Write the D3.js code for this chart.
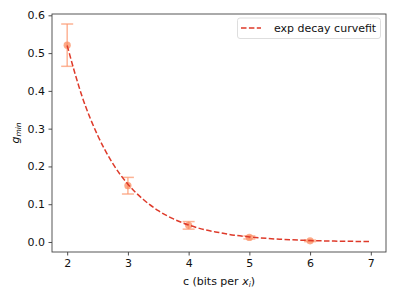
<!DOCTYPE html>
<html><head><meta charset="utf-8">
<script src="https://cdn.jsdelivr.net/npm/d3@7"></script>
<style>body{margin:0;background:#fff}svg{display:block;font-family:"DejaVu Sans",sans-serif}</style>
</head><body>
<script>
// Measured points with error bars
const pointX = [2, 3, 4, 5, 6];
const pointY = [0.521, 0.149, 0.044, 0.012, 0.003];
const pointErr = [0.056, 0.022, 0.010, 0.004, 0.002];
// Fitted curve
const curveX = [2, 2.25, 2.5, 2.75, 3, 3.25, 3.5, 3.75, 4, 4.25, 4.5, 4.75, 5, 5.5, 6, 6.5, 7];
const curveY = [0.520, 0.383, 0.283, 0.208, 0.153, 0.113, 0.083, 0.061, 0.045, 0.033, 0.025, 0.018, 0.0134, 0.0073, 0.0039, 0.0021, 0.0012];
const xTicks = [2, 3, 4, 5, 6, 7];
const yTicks = [0.0, 0.1, 0.2, 0.3, 0.4, 0.5, 0.6];
const legendLabel = "exp decay curvefit";

const W = 398, H = 300;
const L = 52, R = 386, T = 14, B = 252;
const FS = 11;
const svg = d3.select("body").append("svg").attr("width", W).attr("height", H);
const x = d3.scaleLinear().domain([1.75, 7.25]).range([L, R]);
const y = d3.scaleLinear().domain([-0.0265, 0.6035]).range([B, T]);

const gx = svg.append("g").attr("transform", `translate(0,${B})`)
  .call(d3.axisBottom(x).tickValues(xTicks).tickFormat(d3.format("d")).tickSizeOuter(0).tickSize(3.5).tickPadding(3.5));
const gy = svg.append("g").attr("transform", `translate(${L},0)`)
  .call(d3.axisLeft(y).tickValues(yTicks).tickFormat(d3.format(".1f")).tickSizeOuter(0).tickSize(3.5).tickPadding(3.5));
[gx, gy].forEach(g => {
  g.select(".domain").remove();
  g.selectAll("line").attr("stroke", "#222").attr("stroke-width", 0.8);
  g.selectAll("text").attr("font-size", FS).attr("fill", "#111").attr("font-family", "DejaVu Sans");
});

// spines
svg.append("rect").attr("x", L).attr("y", T).attr("width", R - L).attr("height", B - T)
  .attr("fill", "none").attr("stroke", "#444").attr("stroke-width", 0.9);

// error bars
const eb = svg.append("g").attr("stroke", "#fc9a72").attr("stroke-opacity", 0.75).attr("stroke-width", 1.5);
pointX.forEach((px, i) => {
  const cx = x(px), y1 = y(pointY[i] + pointErr[i]), y0 = y(pointY[i] - pointErr[i]);
  eb.append("line").attr("x1", cx).attr("x2", cx).attr("y1", y1).attr("y2", y0);
  eb.append("line").attr("x1", cx - 6).attr("x2", cx + 6).attr("y1", y1).attr("y2", y1);
  eb.append("line").attr("x1", cx - 6).attr("x2", cx + 6).attr("y1", y0).attr("y2", y0);
});
svg.append("g").selectAll("circle").data(pointX).join("circle")
  .attr("cx", d => x(d)).attr("cy", (d, i) => y(pointY[i])).attr("r", 3.6)
  .attr("fill", "#fc8d62").attr("fill-opacity", 0.75);

// curve
const line = d3.line().x(d => x(d[0])).y(d => y(d[1])).curve(d3.curveMonotoneX);
svg.append("path").datum(curveX.map((v, i) => [v, curveY[i]]))
  .attr("d", line).attr("fill", "none").attr("stroke", "#de3a2a")
  .attr("stroke-width", 1.5).attr("stroke-dasharray", "5.5,2.4");

// legend
const lg = svg.append("g");
lg.append("rect").attr("x", 237.5).attr("y", 18).attr("width", 143).attr("height", 20.5)
  .attr("rx", 2.5).attr("fill", "#fff").attr("fill-opacity", 0.8).attr("stroke", "#d6d6d6").attr("stroke-width", 0.8);
lg.append("line").attr("x1", 241).attr("x2", 261).attr("y1", 28).attr("y2", 28)
  .attr("stroke", "#de3a2a").attr("stroke-width", 1.5).attr("stroke-dasharray", "5.5,2.4");
lg.append("text").attr("x", 274).attr("y", 32).attr("font-size", FS).attr("fill", "#111").text(legendLabel);

// axis labels
const xl = svg.append("text").attr("x", (L + R) / 2).attr("y", 285).attr("text-anchor", "middle")
  .attr("font-size", FS).attr("fill", "#111");
xl.append("tspan").text("c (bits per ");
xl.append("tspan").attr("font-style", "italic").text("x");
xl.append("tspan").attr("font-style", "italic").attr("font-size", 7.5).attr("dy", 2).text("i");
xl.append("tspan").attr("dy", -2).text(")");

const yl = svg.append("text").attr("transform", `translate(19,${(T + B) / 2}) rotate(-90)`)
  .attr("text-anchor", "middle").attr("font-size", FS).attr("fill", "#111");
yl.append("tspan").attr("font-style", "italic").text("g");
yl.append("tspan").attr("font-style", "italic").attr("font-size", 7.5).attr("dy", 2).text("min");
</script>
</body></html>
